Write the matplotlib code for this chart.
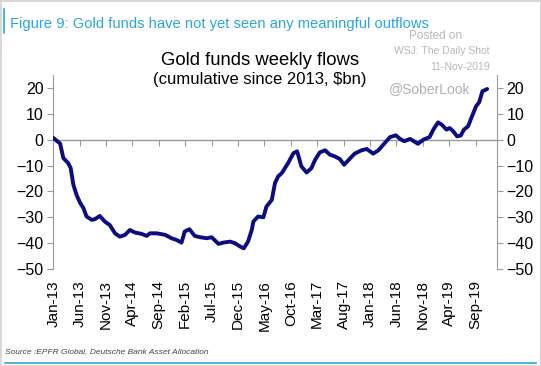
import numpy as np
import matplotlib.pyplot as plt
from matplotlib.lines import Line2D

plt.rcParams['font.family'] = ['Liberation Sans', 'DejaVu Sans']

# months since Jan-2013, cumulative flows ($bn)
months = [0, 1.3, 1.9, 2.8, 3.3, 3.8, 4.4, 5.1, 5.7, 6.3, 7.3, 7.9, 8.8, 9.8, 10.7,
          11.7, 12.6, 13.6, 14.5, 15.5, 16.7, 17.7, 18.3, 19.6, 21.2, 22.4, 23.4,
          24.3, 24.9, 25.8, 26.8, 27.8, 29.1, 30.0, 31.3, 32.2, 33.5, 34.4, 35.4,
          36.1, 36.9, 37.6, 37.9, 38.8, 39.8, 40.4, 41.4, 42.0, 42.6, 43.3, 44.5,
          45.5, 46.2, 47.0, 48.0, 48.9, 49.6, 50.5, 51.5, 52.4, 53.4, 54.3, 55.1,
          56.1, 57.1, 58.4, 59.4, 60.6, 61.6, 62.8, 63.8, 64.9, 65.7, 66.5, 67.6,
          69.1, 70.1, 71.3, 72.0, 72.9, 73.6, 74.5, 75.1, 75.8, 76.5, 77.2, 77.8,
          78.6, 79.2, 80.1, 80.7, 81.3, 82.2]
flows = [0.7, -1.5, -7.1, -9.0, -11.0, -17.4, -21.3, -24.5, -26.4, -29.7, -31.0,
         -30.7, -29.5, -31.7, -33.0, -36.2, -37.5, -36.8, -34.9, -35.9, -36.4, -37.2,
         -36.2, -36.2, -36.8, -38.1, -38.8, -39.8, -35.5, -34.6, -37.2, -37.7, -38.1,
         -37.7, -40.3, -39.8, -39.4, -40.0, -41.3, -42.0, -39.4, -34.9, -31.7, -29.7,
         -30.0, -25.8, -23.3, -16.8, -14.2, -12.9, -9.0, -5.2, -4.5, -10.3, -12.7,
         -11.0, -7.8, -4.9, -4.1, -5.8, -6.5, -7.5, -9.7, -7.5, -5.4, -4.1, -3.6,
         -5.4, -4.1, -1.3, 1.0, 1.7, 0.3, -0.6, 0.3, -1.6, 0.0, 1.0, 3.9, 6.7, 5.8,
         3.9, 4.5, 3.2, 1.3, 1.6, 3.9, 5.2, 8.4, 12.9, 14.5, 18.7, 19.6]

tick_months = list(range(0, 81, 5))
tick_labels = ['Jan-13', 'Jun-13', 'Nov-13', 'Apr-14', 'Sep-14', 'Feb-15', 'Jul-15',
               'Dec-15', 'May-16', 'Oct-16', 'Mar-17', 'Aug-17', 'Jan-18', 'Jun-18',
               'Nov-18', 'Apr-19', 'Sep-19']
yticks = [20, 10, 0, -10, -20, -30, -40, -50]

grey = '#9a9a9a'
fig = plt.figure(figsize=(5.41, 3.66), dpi=100)
fig.patch.set_edgecolor('#d8d8d8')
fig.patch.set_linewidth(2)

ax = fig.add_axes([0.0985, 0.265, 0.8195, 0.53])
ax.plot(months, flows, color='#0c0c82', lw=2.8, solid_capstyle='round',
        solid_joinstyle='round', zorder=3)
ax.set_xlim(0, 84)
ax.set_ylim(-50, 25)
ax.axhline(0, color=grey, lw=1, zorder=1)

ax.spines['top'].set_visible(False)
ax.spines['bottom'].set_position(('data', 0))
ax.spines['bottom'].set_visible(False)
for s in ['left', 'right']:
    ax.spines[s].set_color(grey)

ax.set_yticks(yticks)
ax.tick_params(axis='y', which='both', left=True, right=True, labelleft=True,
               labelright=True, color=grey, length=4, labelsize=11.5, pad=3)
ax.set_xticks(tick_months)
ax.tick_params(axis='x', direction='out', color=grey, length=4, labelbottom=False)

sec = ax.secondary_xaxis('bottom')
sec.set_xticks(tick_months)
sec.set_xticklabels(tick_labels, rotation=90)
sec.tick_params(length=0, labelsize=11, pad=8)
sec.spines['bottom'].set_visible(False)

fig.text(0.48, 0.835, 'Gold funds weekly flows', ha='center', va='center', fontsize=13.3)
fig.text(0.48, 0.782, '(cumulative since 2013, $bn)', ha='center', va='center', fontsize=12)

fig.text(0.018, 0.935, 'Figure 9: Gold funds have not yet seen any meaningful outflows',
         color='#2ba6de', fontsize=10.6, va='center')
fig.add_artist(Line2D([0.007, 0.007], [0.91, 0.975], color='#2ba6de', lw=1.2))

fig.text(0.805, 0.902, 'Posted on', color='#b8b8b8', fontsize=8.5, ha='center', va='center')
fig.text(0.905, 0.861, 'WSJ: The Daily Shot', color='#b8b8b8', fontsize=7.5, ha='right', va='center')
fig.text(0.905, 0.817, '11-Nov-2019', color='#b8b8b8', fontsize=7.5, ha='right', va='center')
fig.text(0.87, 0.758, '@SoberLook', color='#b0b0b0', fontsize=10, ha='right', va='center', zorder=1)

fig.text(0.01, 0.04, 'Source :EPFR Global, Deutsche Bank Asset Allocation', color='#444444',
         fontsize=6, style='italic', va='center')
fig.add_artist(Line2D([0.01, 0.99], [0.007, 0.007], color='#2ba6de', lw=1.2))

fig.savefig('out.png', dpi=100)
